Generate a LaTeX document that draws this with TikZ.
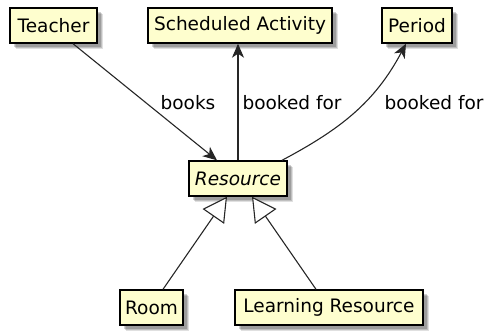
\documentclass[tikz,border=0pt]{standalone}
\usepackage{fontspec}
\setmainfont{DejaVu Sans}
\usetikzlibrary{arrows.meta,shadows}
\definecolor{boxfill}{HTML}{FEFECE}
\tikzset{
  cls/.style={draw=black, line width=1.4pt, fill=boxfill, minimum height=35pt,
    inner sep=0pt, font=\fontsize{18.5}{20}\selectfont,
    drop shadow={shadow xshift=6pt, shadow yshift=-6pt, opacity=0.12, fill=black},
    drop shadow={shadow xshift=5pt, shadow yshift=-5pt, opacity=0.15, fill=black},
    drop shadow={shadow xshift=3.5pt, shadow yshift=-3.5pt, opacity=0.18, fill=black}},
  assoc/.style={draw=black!85, line width=1.1pt, -{Stealth[length=14pt,width=12pt,inset=4pt]}},
  gen/.style={draw=black!85, line width=1.1pt, -{Triangle[open,length=24pt,width=26pt,fill=white]}},
  lbl/.style={font=\fontsize{18.5}{20}\selectfont, inner sep=0pt}
}
\begin{document}
\begin{tikzpicture}[x=1pt,y=-1pt]
\useasboundingbox (0,0) rectangle (488,332);
\node[cls, minimum width=87pt] (teacher) at (53.5,25.5) {Teacher};
\node[cls, minimum width=184pt] (sched) at (240,25.5) {Scheduled Activity};
\node[cls, minimum width=70pt] (period) at (417,25.5) {Period};
\node[cls, minimum width=98pt] (res) at (238,178.5) {\itshape Resource};
\node[cls, minimum width=63pt] (room) at (151.5,307.5) {Room};
\node[cls, minimum width=188pt] (lres) at (329,307.5) {Learning Resource};

\draw[assoc] ([xshift=19.5pt]teacher.south) -- ([xshift=-21pt]res.north);
\draw[assoc] (res.north) -- (res.north |- sched.south);
\draw[assoc] ([xshift=44pt]res.north) to[out=28,in=-118] ([xshift=-11pt]period.south);

\node[lbl] (l1) at (188,103) {books};
\node[lbl] (l2) at (292,103) {booked for};
\node[lbl] (l3) at (434,103) {booked for};

\draw[gen] ([xshift=11.5pt]room.north) -- ([xshift=-11pt]res.south);
\draw[gen] ([xshift=-13pt]lres.north) -- ([xshift=14pt]res.south);
\end{tikzpicture}
\end{document}
